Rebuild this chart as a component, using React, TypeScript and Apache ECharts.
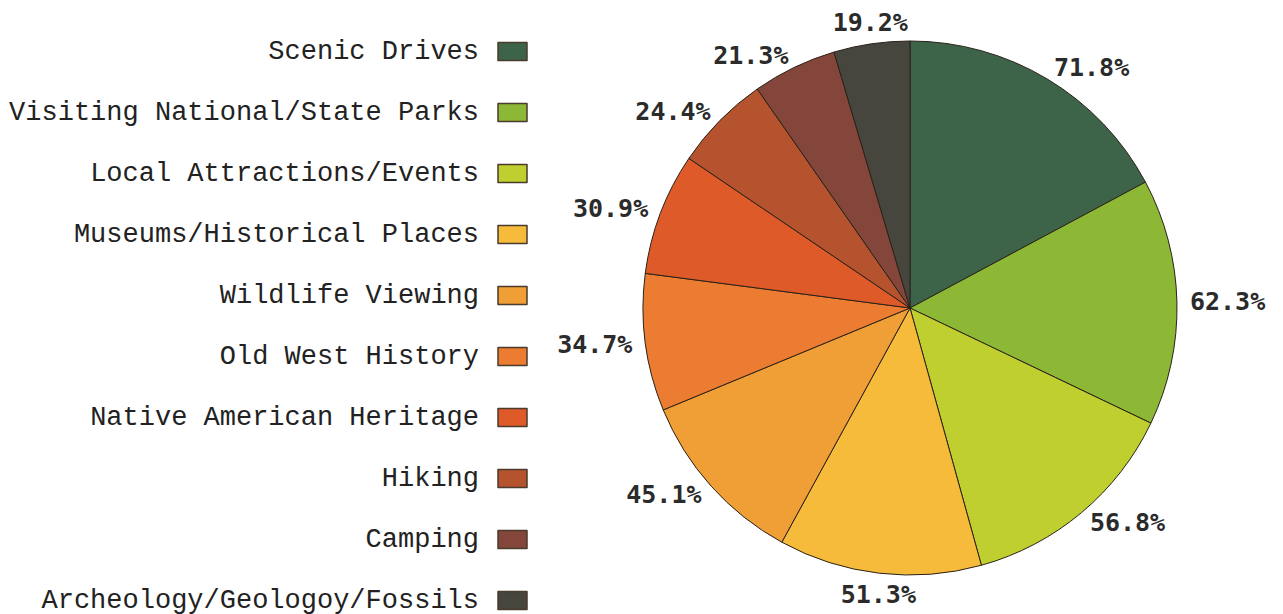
import React, { useEffect, useRef } from "react";
import * as echarts from "echarts";

const categories = [
  "Scenic Drives",
  "Visiting National/State Parks",
  "Local Attractions/Events",
  "Museums/Historical Places",
  "Wildlife Viewing",
  "Old West History",
  "Native American Heritage",
  "Hiking",
  "Camping",
  "Archeology/Geologoy/Fossils",
];
const values = [71.8, 62.3, 56.8, 51.3, 45.1, 34.7, 30.9, 24.4, 21.3, 19.2];
const colors = [
  "#3d6449",
  "#8cb835",
  "#bfcf2f",
  "#f6bb3a",
  "#f09e36",
  "#ec7c31",
  "#de5a29",
  "#b6532f",
  "#84463a",
  "#46463e",
];

const CX = 910;
const CY = 308;
const R = 267;
const RL = 280;
const RV = 276;

export default function App() {
  const ref = useRef<HTMLDivElement>(null);
  useEffect(() => {
    if (!ref.current) return;
    const chart = echarts.init(ref.current, null, { renderer: "svg" });
    const total = values.reduce((a, b) => a + b, 0);
    let cum = 0;
    const mids = values.map((v) => {
      const m = ((cum + v / 2) / total) * Math.PI * 2;
      cum += v;
      return m;
    });
    chart.setOption({
      animation: false,
      color: colors,
      legend: {
        orient: "vertical",
        left: 9,
        top: 38,
        height: 580,
        padding: 0,
        align: "right",
        icon: "rect",
        itemWidth: 29,
        itemHeight: 18,
        itemGap: 34,
        data: categories,
        itemStyle: { borderColor: "#4a3b2c", borderWidth: 1.5 },
        textStyle: {
          fontFamily: "Liberation Mono",
          fontSize: 27,
          color: "#222",
          width: 470,
          align: "right",
          lineHeight: 20,
          padding: [0, 14, 0, 0],
        },
        selectedMode: false,
      },
      series: [
        {
          type: "pie",
          center: [CX, CY],
          radius: R,
          startAngle: 90,
          clockwise: true,
          avoidLabelOverlap: false,
          itemStyle: { borderColor: "#2a2218", borderWidth: 1 },
          label: {
            show: true,
            position: "outside",
            formatter: "{c}%",
            fontFamily: "DejaVu Sans Mono",
            fontWeight: "bold",
            fontSize: 25,
            color: "#2b2b2b",
          },
          labelLine: { show: false },
          labelLayout: (p: any) => {
            const t = mids[p.dataIndex];
            const s = Math.sin(t);
            const c = Math.cos(t);
            if (Math.abs(s) < 0.35) {
              return {
                x: CX + RV * s,
                y: CY - RV * c,
                align: "center",
                verticalAlign: c > 0 ? "bottom" : "top",
              };
            }
            return {
              x: CX + RL * s,
              y: CY - RL * c,
              align: s > 0 ? "left" : "right",
              verticalAlign: "middle",
            };
          },
          emphasis: { disabled: true },
          data: categories.map((name, i) => ({ name, value: values[i] })),
        },
      ],
    });
    return () => chart.dispose();
  }, []);
  return (
    <div
      ref={ref}
      style={{ position: "fixed", left: 0, top: 0, width: 1283, height: 614, background: "#fff" }}
    />
  );
}
